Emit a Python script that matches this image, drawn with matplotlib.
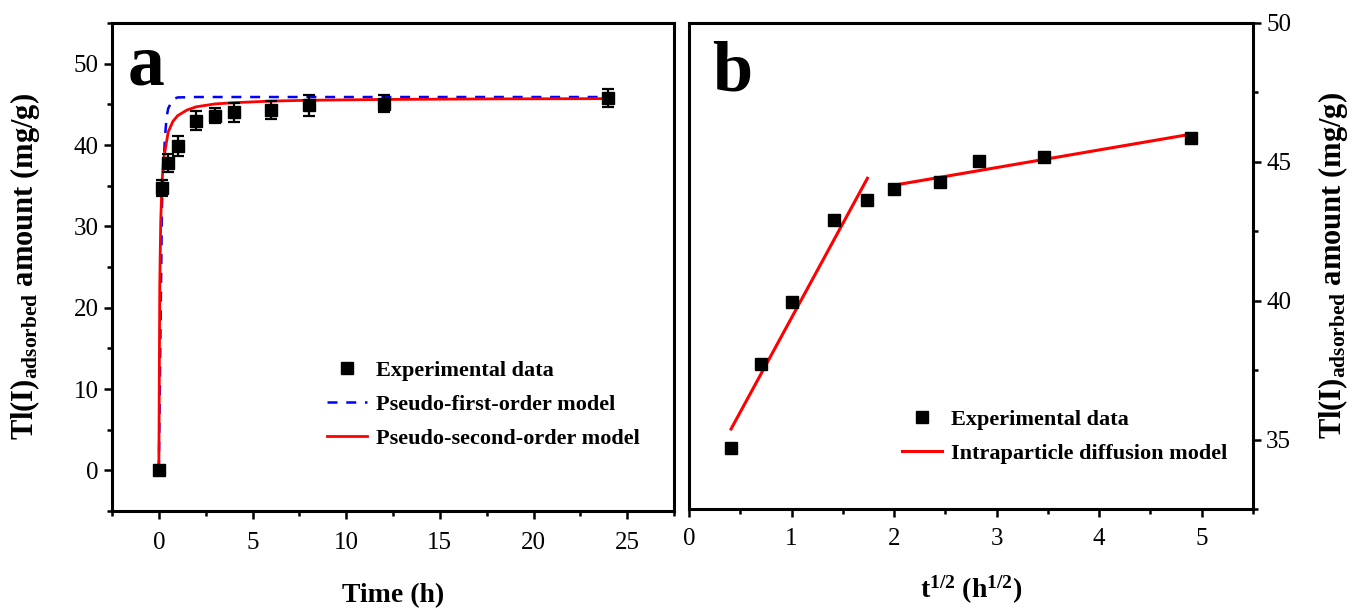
import numpy as np
import matplotlib
matplotlib.use("Agg")
import matplotlib.pyplot as plt
from matplotlib.ticker import MultipleLocator

plt.rcParams['font.family'] = ['Liberation Serif', 'DejaVu Serif']
plt.rcParams['mathtext.fontset'] = 'custom'
plt.rcParams['mathtext.rm'] = 'Liberation Serif'
plt.rcParams['mathtext.bf'] = 'Liberation Serif:bold'
plt.rcParams['mathtext.it'] = 'Liberation Serif:italic'

# --- panel a: kinetics data ---
t_exp = [0, 0.167, 0.5, 1, 2, 3, 4, 6, 8, 12, 24]
q_exp = [0, 34.7, 37.8, 39.9, 43.0, 43.6, 44.0, 44.3, 44.9, 45.1, 45.8]
q_err = [0, 1.0, 1.1, 1.25, 1.2, 0.95, 1.2, 1.15, 1.3, 1.05, 1.1]

t_pfo = [0, 0.167, 0.25, 0.33, 0.42, 0.5, 0.75, 1, 2, 4, 8, 12, 24]
q_pfo = [0, 32.5, 37.5, 41.1, 43.5, 44.5, 45.6, 45.85, 45.9, 45.9, 45.9, 45.9, 45.9]

t_pso = [0, 0.05, 0.1, 0.167, 0.25, 0.5, 0.75, 1, 1.5, 2, 3, 4, 6, 8, 12, 18, 24]
q_pso = [0, 22.9, 30.5, 35.3, 38.2, 41.6, 42.9, 43.6, 44.3, 44.7, 45.05, 45.2, 45.4,
         45.5, 45.6, 45.67, 45.7]

# --- panel b: intraparticle diffusion ---
sqrt_t = [0.41, 0.707, 1.0, 1.414, 1.732, 2.0, 2.449, 2.828, 3.464, 4.899]
q_b = [34.7, 37.73, 39.94, 42.91, 43.63, 44.03, 44.28, 45.04, 45.18, 45.87]

fit1_x = [0.41, 1.74]
fit1_y = [35.38, 44.41]
fit2_x = [2.0, 4.9]
fit2_y = [44.16, 46.0]

ylabel = r'$\mathbf{Tl(I)_{adsorbed}}$ amount (mg/g)'

fig = plt.figure(figsize=(13.54, 6.09), dpi=100)
axa = fig.add_axes([112/1354, 98/609, 562/1354, 488/609])
axb = fig.add_axes([689/1354, 100/609, 564/1354, 486/609])

for ax in (axa, axb):
    for s in ax.spines.values():
        s.set_linewidth(2.2)

# panel a
axa.errorbar(t_exp, q_exp, yerr=q_err, fmt='none', ecolor='black',
             elinewidth=1.6, capsize=4, capthick=1.6, zorder=3)
axa.plot(t_exp, q_exp, 's', color='black', markersize=9, zorder=4,
         label='Experimental data')
axa.plot(t_pfo, q_pfo, color='blue', lw=1.8, dashes=(4, 3.5), zorder=2,
         label='Pseudo-first-order model')
axa.plot(t_pso, q_pso, color='red', lw=2.0, zorder=2,
         label='Pseudo-second-order model')
axa.set_xlim(-2.5, 27.5)
axa.set_ylim(-5, 55)
axa.xaxis.set_major_locator(MultipleLocator(5))
axa.xaxis.set_minor_locator(MultipleLocator(2.5))
axa.yaxis.set_major_locator(MultipleLocator(10))
axa.yaxis.set_minor_locator(MultipleLocator(5))
axa.tick_params(which='both', direction='out', width=1.8, labelsize=18,
                top=False, right=False)
axa.tick_params(which='major', length=6)
axa.tick_params(which='minor', length=3.5)
axa.tick_params(axis='x', which='major', pad=9)
axa.set_xlabel('Time (h)', fontsize=20, fontweight='bold', labelpad=21)
axa.set_ylabel(ylabel, fontsize=22, fontweight='bold')
axa.yaxis.set_label_coords(-0.125, 0.5)
axa.text(0.028, 0.873, 'a', transform=axa.transAxes, fontsize=53,
         fontweight='bold', ha='left', va='baseline')
axa.legend(loc='upper left', bbox_to_anchor=(0.383, 0.308), frameon=False,
           prop={'size': 16, 'weight': 'bold'}, borderpad=0, borderaxespad=0,
           handlelength=1.8, handletextpad=0.4, labelspacing=0.6)

# panel b
axb.plot(sqrt_t, q_b, 's', color='black', markersize=9, zorder=4,
         label='Experimental data')
axb.plot(fit1_x, fit1_y, color='red', lw=2.2, zorder=3,
         label='Intraparticle diffusion model')
axb.plot(fit2_x, fit2_y, color='red', lw=2.2, zorder=3)
axb.set_xlim(0, 5.5)
axb.set_ylim(32.5, 50)
axb.xaxis.set_major_locator(MultipleLocator(1))
axb.xaxis.set_minor_locator(MultipleLocator(0.5))
axb.yaxis.set_major_locator(MultipleLocator(5))
axb.yaxis.set_minor_locator(MultipleLocator(2.5))
axb.yaxis.tick_right()
axb.yaxis.set_label_position('right')
axb.tick_params(which='both', direction='out', width=1.8, labelsize=18,
                top=False, left=False)
axb.tick_params(which='major', length=6)
axb.tick_params(which='minor', length=3.5)
axb.tick_params(axis='x', which='major', pad=8)
axb.set_xlabel(r'$\mathbf{t^{1/2}}$ ($\mathbf{h^{1/2}}$)', fontsize=20,
               fontweight='bold', labelpad=17)
axb.set_ylabel(ylabel, fontsize=22, fontweight='bold', labelpad=18,
               rotation=90)
axb.text(0.041, 0.862, 'b', transform=axb.transAxes, fontsize=52,
         fontweight='bold', ha='left', va='baseline')
axb.legend(loc='upper left', bbox_to_anchor=(0.378, 0.205), frameon=False,
           prop={'size': 16, 'weight': 'bold'}, borderpad=0, borderaxespad=0,
           handlelength=1.8, handletextpad=0.4, labelspacing=0.6)

fig.savefig('out.png', dpi=100)
